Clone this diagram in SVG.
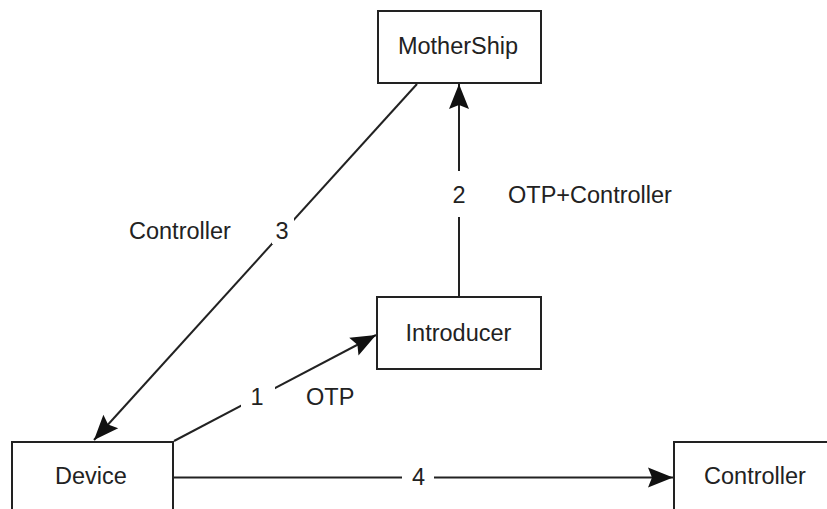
<svg xmlns="http://www.w3.org/2000/svg" width="827" height="509" viewBox="0 0 827 509">
<style>
.box{fill:#fff;stroke:#222;stroke-width:2}
.t{font-family:"Liberation Sans",Arial,sans-serif;font-size:23.5px;fill:#222}
.c{text-anchor:middle}
.ln{fill:none;stroke:#222;stroke-width:2}
.bg{fill:#fff}
</style>
<defs>
<marker id="arr" markerUnits="userSpaceOnUse" markerWidth="28" markerHeight="24" viewBox="-26 -12 28 24" refX="0" refY="0" orient="auto">
<path d="M0,0 L-25,-10 L-21,0 L-25,10 Z" fill="#111"/>
</marker>
</defs>
<rect width="827" height="509" fill="#fff"/>
<g id="connectors">
<line class="ln" x1="417" y1="84" x2="94" y2="440" marker-end="url(#arr)"/>
<rect class="bg" x="272" y="218" width="22" height="26"/>
<text class="t c" x="282" y="239">3</text>
<text class="t" x="129" y="239">Controller</text>
<line class="ln" x1="459" y1="297" x2="459" y2="84" marker-end="url(#arr)"/>
<rect class="bg" x="448" y="171" width="22" height="46"/>
<text class="t c" x="459" y="203">2</text>
<text class="t" x="508" y="203">OTP+Controller</text>
<line class="ln" x1="174" y1="441" x2="376" y2="335" marker-end="url(#arr)"/>
<rect class="bg" x="241" y="382" width="34" height="30"/>
<text class="t c" x="257" y="405">1</text>
<text class="t" x="306" y="405">OTP</text>
<line class="ln" x1="173" y1="477.5" x2="673" y2="477.5" marker-end="url(#arr)"/>
<rect class="bg" x="402" y="465" width="32" height="25"/>
<text class="t c" x="418.5" y="485">4</text>
</g>
<g id="mothership">
<rect class="box" x="378" y="11" width="163" height="72"/>
<text class="t c" x="458" y="54">MotherShip</text>
</g>
<g id="introducer">
<rect class="box" x="377" y="297" width="164" height="72"/>
<text class="t c" x="458.5" y="341">Introducer</text>
</g>
<g id="device">
<rect class="box" x="12" y="442" width="161" height="72"/>
<text class="t c" x="91" y="484">Device</text>
</g>
<g id="controller">
<rect class="box" x="674" y="442" width="164" height="72"/>
<text class="t c" x="755" y="484">Controller</text>
</g>
</svg>
